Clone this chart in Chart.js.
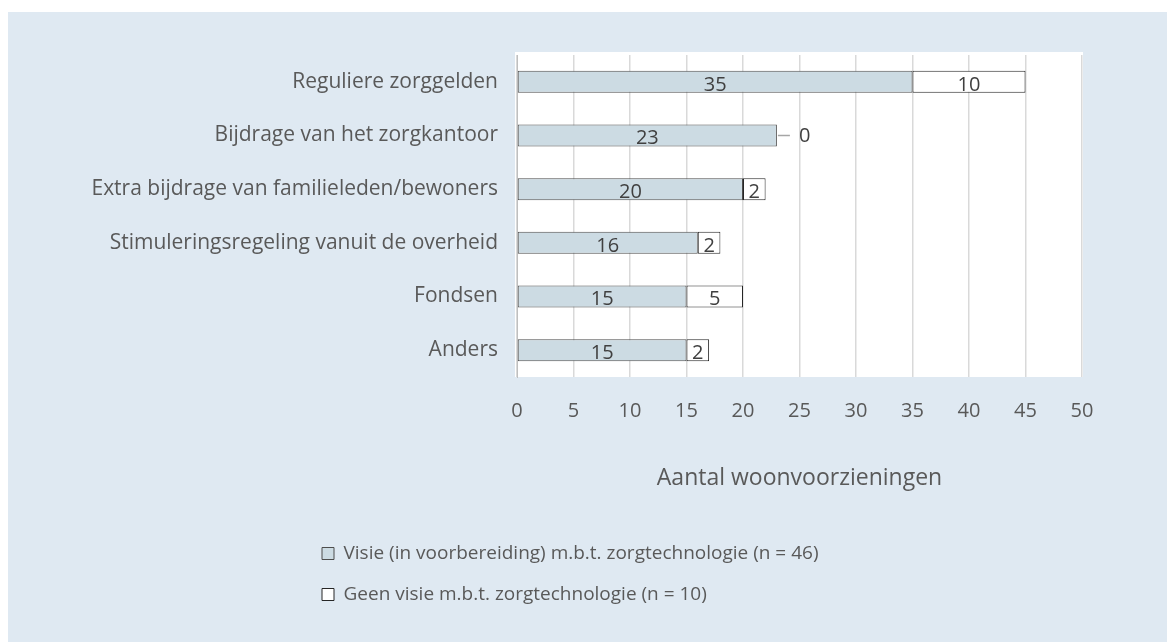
<!DOCTYPE html>
<html>
<head>
<meta charset="utf-8">
<script src="https://cdn.jsdelivr.net/npm/chart.js@4"></script>
<style>
  body { margin: 0; background: #ffffff; }
  canvas { display: block; }
</style>
</head>
<body>
<canvas id="barChart" width="1167" height="642"></canvas>
<script>
// data
var categories = ["Reguliere zorggelden", "Bijdrage van het zorgkantoor", "Extra bijdrage van familieleden/bewoners",
  "Stimuleringsregeling vanuit de overheid", "Fondsen", "Anders"];
var visieValues = [35, 23, 20, 16, 15, 15];
var geenVisieValues = [10, 0, 2, 2, 5, 2];
var seriesLabels = ["Visie (in voorbereiding) m.b.t. zorgtechnologie (n = 46)", "Geen visie m.b.t. zorgtechnologie (n = 10)"];
var xTickMax = 50;
var xTickStep = 5;
var axisTitle = "Aantal woonvoorzieningen";

var fontFamily = "'Open Sans', 'Liberation Sans', sans-serif";

// light blue panel behind everything, white plot area
var panelBackground = {
  id: 'panelBackground',
  afterLayout: function(chart) {
    // legend sits left of the plot, rows start at x = 323
    var lg = chart.legend;
    var w = lg.right - lg.left;
    lg.left = 300;
    lg.right = 300 + w;
  },
  beforeDraw: function(chart) {
    var c = chart.ctx, a = chart.chartArea;
    c.save();
    c.fillStyle = '#dfe9f2';
    c.fillRect(8, 12, chart.width - 8, chart.height - 12);
    c.fillStyle = '#ffffff';
    c.fillRect(a.left - 2, a.top - 3, a.right - a.left + 3, a.bottom - a.top + 3);
    c.restore();
  }
};

// value labels in the bar segments
var valueLabels = {
  id: 'valueLabels',
  afterDatasetsDraw: function(chart) {
    var c = chart.ctx;
    c.save();
    c.font = "20px " + fontFamily;
    c.fillStyle = '#404040';
    c.textBaseline = 'middle';
    chart.data.datasets.forEach(function(ds, i) {
      chart.getDatasetMeta(i).data.forEach(function(bar, j) {
        var v = ds.data[j];
        if (v === 0) {
          c.strokeStyle = '#a6a6a6';
          c.lineWidth = 1.5;
          c.beginPath();
          c.moveTo(bar.x + 1, bar.y);
          c.lineTo(bar.x + 13, bar.y);
          c.stroke();
          c.textAlign = 'left';
          c.fillText(v, bar.x + 22, bar.y + 1);
        } else {
          c.textAlign = 'center';
          c.fillText(v, (bar.base + bar.x) / 2, bar.y + 3);
        }
      });
    });
    c.restore();
  }
};

var ctx = document.getElementById('barChart').getContext('2d');
var barChart = new Chart(ctx, {
  type: 'bar',
  data: {
    labels: categories,
    datasets: [{
      label: seriesLabels[0],
      data: visieValues,
      backgroundColor: '#ccdbe3',
      borderColor: '#4d4d4d',
      borderWidth: 1,
      borderSkipped: false,
      barPercentage: 0.41,
      categoryPercentage: 1
    }, {
      label: seriesLabels[1],
      data: geenVisieValues,
      backgroundColor: '#ffffff',
      borderColor: '#262626',
      borderWidth: 1,
      borderSkipped: false,
      barPercentage: 0.41,
      categoryPercentage: 1
    }]
  },
  options: {
    indexAxis: 'y',
    responsive: false,
    animation: false,
    layout: {
      padding: { left: 8, right: 85, top: 55, bottom: 28 }
    },
    plugins: {
      legend: {
        position: 'bottom',
        align: 'start',
        fullSize: false,
        labels: {
          boxWidth: 12,
          boxHeight: 12,
          padding: 22,
          color: '#595959',
          font: { family: fontFamily, size: 19 }
        }
      },
      tooltip: { enabled: false }
    },
    scales: {
      x: {
        stacked: true,
        min: 0,
        max: xTickMax,
        ticks: {
          stepSize: xTickStep,
          padding: 22,
          color: '#595959',
          font: { family: fontFamily, size: 20 }
        },
        grid: { color: '#d9d9d9', lineWidth: 1.5, drawTicks: false },
        border: { display: false },
        title: {
          display: true,
          text: axisTitle,
          color: '#595959',
          font: { family: fontFamily, size: 23 },
          padding: { top: 0, bottom: 30 }
        },
        afterFit: function(scale) { scale.height = 145; }
      },
      y: {
        stacked: true,
        ticks: {
          padding: 19,
          color: '#595959',
          font: { family: fontFamily, size: 21 }
        },
        grid: { display: false, drawTicks: false },
        border: { display: true, color: '#bfbfbf', width: 1 },
        afterFit: function(scale) { scale.width = 509; }
      }
    }
  },
  plugins: [panelBackground, valueLabels]
});
</script>
</body>
</html>
